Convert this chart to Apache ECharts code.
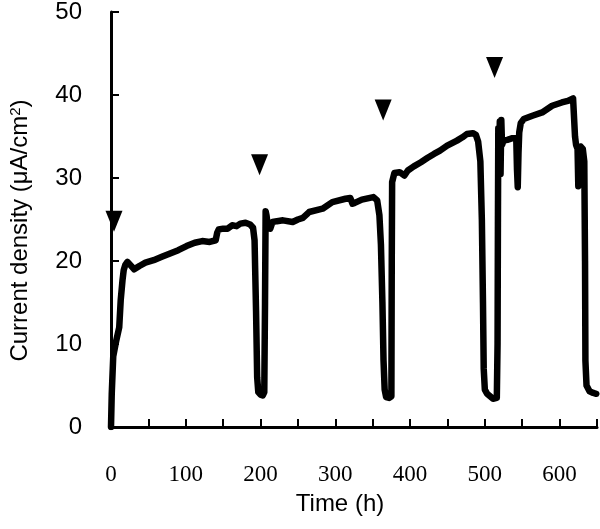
<!DOCTYPE html>
<html><head><meta charset="utf-8">
<script src="https://cdn.jsdelivr.net/npm/echarts@6/dist/echarts.min.js"></script>
<style>html,body{margin:0;padding:0;background:#fff}#c{width:600px;height:529px}</style>
</head><body><div id="c"></div>
<script>
const timeH = [0, 1, 3, 7, 11, 13, 15.4, 17, 19, 22, 26, 31, 38, 46, 57, 68, 79, 90, 101, 112, 122, 132, 140, 142, 144, 150, 156, 162, 168, 173, 180, 186, 190, 192, 194, 195.5, 197, 200, 203, 205, 206, 206.8, 208, 210, 213, 216, 222, 230, 243, 250, 256.6, 265, 283, 296, 313.6, 320, 323, 326, 335.5, 351, 356, 359, 361, 363, 364.5, 366, 368, 372, 375, 375.5, 376, 379, 386, 392.5, 397, 405, 414.5, 423, 432, 440, 449.6, 462.7, 470, 476, 484, 488, 491, 494, 496, 497.5, 498.5, 500, 503, 507, 511, 513, 516, 517, 517.5, 518, 519, 520, 521, 522, 523, 525, 530, 537, 542, 543, 544, 545, 546, 548, 552, 563.6, 576.7, 590, 603, 611, 618, 620, 620.6, 622, 624, 625, 626, 628, 631, 633, 634, 634.5, 636, 640, 645, 649];
const currentDensity = [0, 4, 8.5, 10.4, 12, 15.3, 17.7, 18.9, 19.5, 19.9, 19.5, 19.0, 19.4, 19.8, 20.1, 20.5, 20.9, 21.3, 21.8, 22.2, 22.4, 22.3, 22.5, 23.4, 23.8, 23.9, 23.9, 24.3, 24.2, 24.5, 24.6, 24.4, 24.0, 22.5, 14, 6, 4.2, 3.9, 3.8, 4.2, 15, 26.0, 25.5, 24.0, 23.9, 24.7, 24.8, 24.9, 24.7, 25.0, 25.2, 25.9, 26.3, 27.1, 27.5, 27.6, 26.9, 27.0, 27.4, 27.7, 27.3, 25.5, 22, 15, 8, 4.5, 3.6, 3.5, 3.7, 20, 29.5, 30.6, 30.7, 30.3, 30.9, 31.4, 31.9, 32.4, 32.9, 33.3, 33.9, 34.5, 34.9, 35.3, 35.4, 35.2, 34.4, 32, 25, 15, 7, 4.5, 4.0, 3.7, 3.4, 3.2, 3.5, 10, 25, 36, 31, 36.8, 30.5, 37, 34, 34.5, 34.6, 34.8, 34.8, 31, 28.9, 33, 35.5, 36.6, 37.1, 37.5, 37.9, 38.7, 39.1, 39.3, 39.6, 39.4, 35, 34, 33.5, 29, 33, 33.8, 33.5, 32, 20, 8, 5, 4.3, 4.1, 4.0];
const markerTime = [4, 198.7, 364, 513];
const markerValue = [24.8, 31.6, 38.2, 43.3];

const chart = echarts.init(document.getElementById('c'));
chart.setOption({
  animation: false,
  backgroundColor: '#fff',
  grid: { left: 105, right: 3, top: 11, bottom: 102, containLabel: false },
  xAxis: {
    type: 'value', min: 0, max: 650, interval: 50,
    name: 'Time (h)', nameLocation: 'middle', nameGap: 65,
    nameTextStyle: { fontFamily: 'Liberation Sans', fontSize: 24, color: '#000', padding: [0, 28, 0, 0] },
    axisLine: { show: true, onZero: false, lineStyle: { color: '#000', width: 3 } },
    axisTick: { show: true, inside: true, length: 8, lineStyle: { color: '#000', width: 2 } },
    axisLabel: { formatter: v => (v % 100 === 0 ? String(v) : ''), fontFamily: 'Liberation Serif', fontSize: 23, color: '#000', margin: 36 },
    splitLine: { show: false }
  },
  yAxis: {
    type: 'value', min: 0, max: 50, interval: 10,
    name: 'Current density (μA/cm{s|2})', nameLocation: 'middle', nameGap: 79, nameRotate: 90,
    nameTextStyle: { fontFamily: 'Liberation Sans', fontSize: 24, color: '#000', padding: [0, 22, 0, 0],
      rich: { s: { fontFamily: 'Liberation Sans', fontSize: 15, lineHeight: 15, verticalAlign: 'top', color: '#000' } } },
    axisLine: { show: true, onZero: false, lineStyle: { color: '#000', width: 3 } },
    axisTick: { show: true, inside: true, length: 8, lineStyle: { color: '#000', width: 2 } },
    axisLabel: { fontFamily: 'Liberation Sans', fontSize: 24, color: '#000', margin: 29 },
    splitLine: { show: false }
  },
  series: [
    {
      type: 'line', data: timeH.map((t, i) => [t, currentDensity[i]]),
      showSymbol: false, symbol: 'none', smooth: false,
      lineStyle: { color: '#000', width: 6.5, cap: 'round', join: 'round' }
    },
    {
      type: 'scatter', data: markerTime.map((t, i) => [t, markerValue[i]]),
      symbol: 'triangle', symbolRotate: 180, symbolSize: [17, 21],
      itemStyle: { color: '#000', opacity: 1 }
    }
  ]
});
</script>
</body></html>
